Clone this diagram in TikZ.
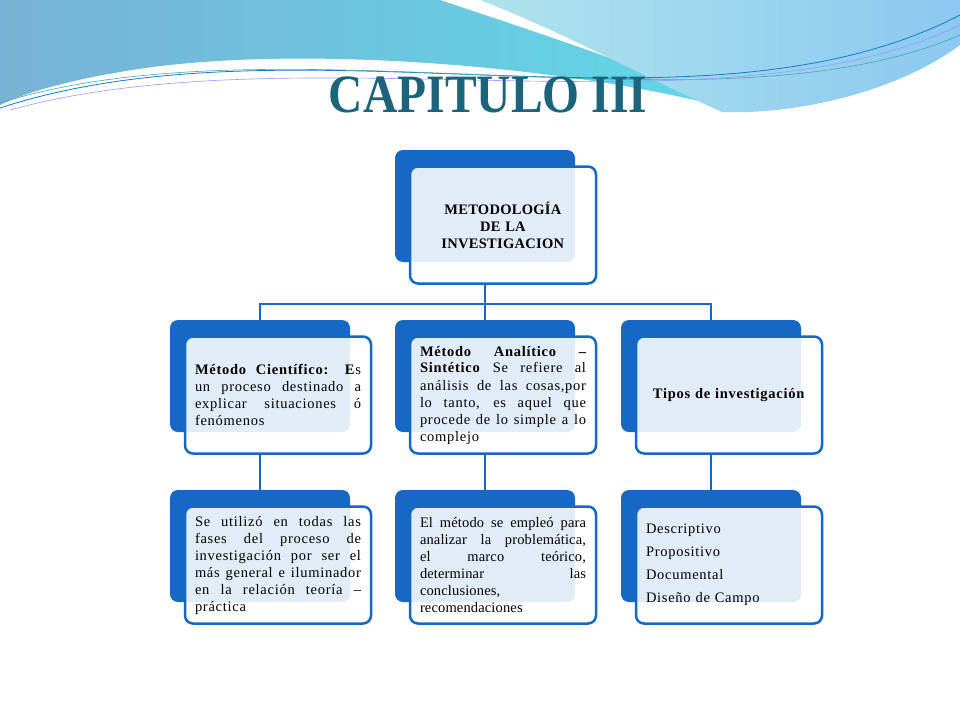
\documentclass[tikz,border=0pt]{standalone}
\usepackage{fontspec}
\setmainfont{Liberation Serif}
\usepackage{tikz}
\usetikzlibrary{positioning}
\definecolor{azul}{RGB}{21,104,196}
\definecolor{tituloc}{RGB}{28,100,124}
\definecolor{olaA}{RGB}{120,178,212}
\definecolor{olaB}{RGB}{96,216,232}
\definecolor{olaC}{RGB}{175,228,236}
\definecolor{olaD}{RGB}{140,200,240}
\hyphenpenalty=10000 \exhyphenpenalty=10000
\tikzset{
  fondo/.style={fill=azul, rounded corners=8pt, minimum width=180pt, minimum height=112pt, inner sep=0pt},
  frente/.style={draw=azul, line width=2.5pt, fill=white, fill opacity=0.88, text opacity=1,
                 rounded corners=8pt, minimum width=186pt, minimum height=117pt, inner sep=0pt},
  texto/.style={text width=166pt, font=\fontsize{14.5}{17}\selectfont\addfontfeature{LetterSpace=5}},
  enlace/.style={draw=azul, line width=2.5pt}
}
\newcommand{\caja}[5]{%
  \node[fondo] (#1b) at (#2,#3) {};
  \node[frente] (#1) at ([xshift=18pt,yshift=-19pt]#1b.center) {};
  \node[texto, align=#4] (#1t) at (#1.center) {#5};
}
\begin{document}
\begin{tikzpicture}[x=1pt,y=-1pt]
  \useasboundingbox (0,0) rectangle (960,720);
  \fill[white] (0,0) rectangle (960,720);
  % cabecera
  \shade[left color=olaA, right color=olaB]
    (0,0) -- (440,0) .. controls (560,40) and (680,80) .. (740,112)
    .. controls (600,70) and (300,40) .. (120,72) .. controls (60,82) and (20,95) .. (0,105) -- cycle;
  \shade[left color=olaC, right color=olaD]
    (480,0) -- (960,0) -- (960,45) .. controls (900,90) and (800,115) .. (722,112)
    .. controls (650,80) and (570,35) .. (480,0) -- cycle;
  \draw[cyan!60!blue, line width=0.8pt] (0,108) .. controls (300,10) and (700,150) .. (960,15);
  \draw[teal!70, line width=0.6pt] (0,103) .. controls (280,15) and (720,140) .. (960,35);
  \draw[blue!40, line width=0.6pt] (10,110) .. controls (300,30) and (720,140) .. (960,25);
  \node[font=\bfseries\fontsize{54}{54}\selectfont, text=tituloc, xscale=0.88] (titulo) at (488,95) {CAPITULO III};

  % cajas
  \caja{raiz}{485}{206}{center}{\addfontfeature{LetterSpace=2}\textbf{METODOLOGÍA}\\ \textbf{DE LA}\\ \textbf{INVESTIGACION}}
  \caja{cien}{260}{376}{justify}{\textbf{Método Científico: E}s un proceso destinado a explicar situaciones ó fenómenos}
  \caja{anal}{485}{376}{justify}{\textbf{Método Analítico – Sintético} Se refiere al análisis de las cosas,por lo tanto, es aquel que procede de lo simple a lo complejo}
  \caja{tipo}{711}{376}{center}{\textbf{Tipos de investigación}}
  \caja{fase}{260}{546}{justify}{Se utilizó en todas las fases del proceso de investigación por ser el más general e iluminador en la relación teoría – práctica}
  \caja{empl}{485}{546}{justify}{\addfontfeature{LetterSpace=1}El método se empleó para analizar la problemática, el marco teórico,\linebreak determinar las\linebreak conclusiones,\\ recomendaciones}
  \caja{list}{711}{546}{left}{Descriptivo\\[6pt] Propositivo\\[6pt] Documental\\[6pt] Diseño de Campo}

  % conectores
  \path[enlace] (raiz.south -| raizb) -- ++(0,19) coordinate (bus);
  \path[enlace] (cienb.north) |- (bus) -| (tipob.north);
  \path[enlace] (bus) -- (analb.north);
  \path[enlace] (cien.south -| cienb) -- (faseb.north);
  \path[enlace] (anal.south -| analb) -- (emplb.north);
  \path[enlace] (tipo.south -| tipob) -- (listb.north);
\end{tikzpicture}
\end{document}
